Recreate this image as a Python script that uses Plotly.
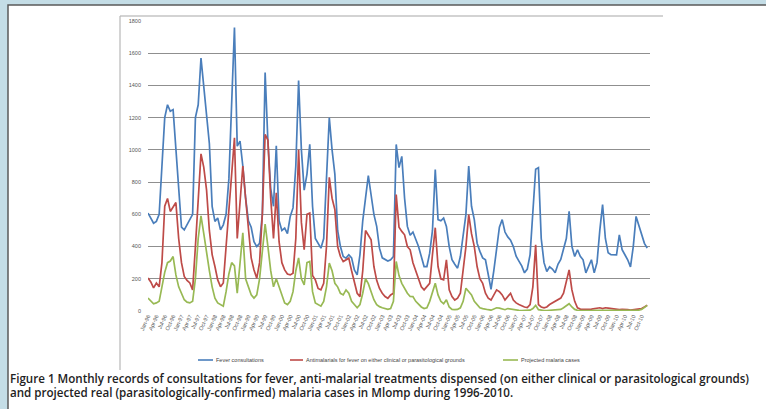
import plotly.graph_objects as go

# Monthly series, January 1996 to December 2010 (one value per month)
fever_consultations = [
    608, 580, 545, 556, 600, 900, 1200, 1280, 1240, 1250, 1000, 770,     # 1996
    520, 504, 535, 570, 600, 1200, 1280, 1570, 1400, 1250, 1040, 650,    # 1997
    556, 577, 504, 535, 600, 820, 1250, 1760, 1023, 1054, 900, 700,      # 1998
    560, 520, 430, 400, 420, 600, 1480, 1050, 760, 650, 1025, 560,       # 1999
    500, 514, 480, 587, 640, 900, 1430, 1000, 750, 850, 1035, 650,       # 2000
    450, 421, 390, 450, 800, 1200, 1000, 850, 500, 400, 338, 328,        # 2001
    349, 330, 255, 224, 350, 560, 700, 840, 720, 600, 525, 390,          # 2002
    330, 318, 310, 318, 338, 1034, 890, 960, 700, 525, 470, 490,         # 2003
    450, 400, 338, 276, 276, 359, 500, 878, 567, 560, 577, 525,          # 2004
    400, 318, 290, 266, 338, 480, 600, 900, 650, 567, 421, 370,          # 2005
    330, 318, 214, 135, 250, 400, 520, 567, 490, 460, 440, 400,          # 2006
    340, 310, 280, 237, 260, 350, 600, 880, 890, 450, 300, 245,          # 2007
    274, 260, 237, 290, 320, 380, 450, 618, 400, 338, 380, 340,          # 2008
    318, 237, 280, 318, 237, 300, 500, 660, 450, 361, 350, 349,          # 2009
    349, 473, 380, 349, 318, 274, 400, 587, 530, 480, 420, 390,          # 2010
]

antimalarials_dispensed = [
    205, 180, 143, 174, 150, 300, 650, 698, 618, 650, 673, 450,
    300, 214, 190, 174, 131, 400, 727, 975, 891, 750, 500, 350,
    276, 193, 151, 174, 400, 629, 900, 1075, 450, 700, 900, 700,
    525, 330, 255, 204, 300, 600, 1096, 1060, 700, 450, 733, 430,
    300, 255, 230, 224, 235, 450, 1000, 550, 380, 600, 608, 220,
    193, 140, 131, 172, 400, 830, 700, 629, 400, 338, 307, 320,
    328, 250, 172, 110, 89, 250, 500, 470, 442, 276, 190, 140,
    110, 90, 79, 100, 110, 723, 520, 494, 473, 400, 380, 300,
    250, 214, 150, 131, 150, 172, 350, 517, 276, 200, 193, 318,
    131, 90, 68, 79, 110, 250, 400, 598, 480, 400, 276, 200,
    172, 110, 80, 68, 100, 131, 120, 100, 68, 90, 110, 68,
    50, 40, 30, 25, 21, 40, 150, 411, 40, 25, 20, 25,
    40, 50, 60, 70, 80, 110, 193, 255, 131, 60, 20, 12,
    10, 8, 10, 12, 15, 18, 20, 15, 20, 18, 15, 12,
    10, 8, 10, 10, 8, 5, 8, 10, 12, 15, 25, 35,
]

projected_cases = [
    80, 60, 45, 50, 60, 150, 240, 300, 310, 338, 224, 150,
    110, 70, 55, 50, 60, 200, 450, 590, 480, 350, 250, 150,
    80, 50, 40, 30, 120, 230, 300, 280, 110, 300, 485, 200,
    150, 100, 80, 100, 200, 350, 540, 400, 250, 150, 200, 150,
    100, 50, 40, 60, 120, 250, 330, 200, 162, 300, 307, 120,
    50, 40, 30, 60, 150, 297, 250, 172, 150, 110, 100, 131,
    110, 60, 40, 20, 40, 110, 200, 170, 120, 70, 40, 27,
    20, 15, 10, 15, 60, 307, 220, 172, 140, 110, 90, 89,
    60, 40, 25, 15, 20, 60, 120, 172, 100, 60, 45, 70,
    25, 10, 8, 10, 20, 60, 141, 120, 100, 60, 40, 20,
    15, 10, 8, 5, 15, 20, 18, 12, 8, 15, 12, 6,
    5, 4, 3, 3, 3, 5, 15, 35, 8, 4, 3, 3,
    4, 5, 6, 8, 10, 20, 35, 45, 25, 10, 4, 3,
    3, 2, 3, 3, 4, 4, 5, 4, 5, 4, 3, 3,
    3, 2, 3, 3, 2, 2, 3, 4, 6, 10, 20, 35,
]

years = list(range(1996, 2011))
tick_months = ["Jan", "Apr", "Jul", "Oct"]
series_names = [
    "Fever consultations",
    "Antimalarials for fever on either clinical or parasitological grounds",
    "Projected malaria cases",
]
caption_lines = [
    "Figure 1 Monthly records of consultations for fever, anti-malarial treatments dispensed "
    "(on either clinical or parasitological grounds)",
    "and projected real (parasitologically-confirmed) malaria cases in Mlomp during 1996-2010.",
]

colors = ["#4a7ebb", "#be4b48", "#98b954"]

months = list(range(len(fever_consultations)))
tick_vals = list(range(0, len(months), 3))
tick_text = [f"{m}-{str(y)[2:]}" for y in years for m in tick_months]

# page geometry (pixels) of the plotting area
W, H = 766, 409
L, R, T, B = 148, 650, 21, 311


def px(x):
    return (x - L) / (R - L)


def py(y):
    return (B - y) / (B - T)


fig = go.Figure()
for name, vals, col in zip(series_names,
                           [fever_consultations, antimalarials_dispensed, projected_cases],
                           colors):
    fig.add_trace(go.Scatter(x=months, y=vals, mode="lines", name=name,
                             line=dict(color=col, width=1.7), showlegend=False))

shapes = [
    # white page panel with dark edge
    dict(type="rect", xref="paper", yref="paper", x0=px(8), x1=px(790), y0=py(430), y1=py(5),
         fillcolor="white", line=dict(color="#5a5a5a", width=1.5), layer="below"),
    # chart-area frame (top and left)
    dict(type="line", xref="paper", yref="paper", x0=px(120), x1=px(663), y0=py(16), y1=py(16),
         line=dict(color="#c4c4c4", width=1.5), layer="below"),
    dict(type="line", xref="paper", yref="paper", x0=px(120), x1=px(120), y0=py(16), y1=py(370),
         line=dict(color="#b8b8b8", width=1.2), layer="below"),
]

annotations = []
# legend keys
legend_keys = [(198, 213), (290, 303), (503, 518)]
for (x0, x1), name, col in zip(legend_keys, series_names, colors):
    shapes.append(dict(type="line", xref="paper", yref="paper", x0=px(x0), x1=px(x1),
                       y0=py(360), y1=py(360), line=dict(color=col, width=1.6)))
    annotations.append(dict(xref="paper", yref="paper", x=px(x1 + 1), y=py(360), text=name,
                            showarrow=False, xanchor="left", yanchor="middle",
                            font=dict(size=5.5, color="#444444", family="Liberation Sans")))

# caption
for i, line in enumerate(caption_lines):
    annotations.append(dict(xref="paper", yref="paper", x=px(8), y=py(378 + 15 * i), text=line,
                            showarrow=False, xanchor="left", yanchor="middle",
                            font=dict(size=11.6, color="#222222", family="Open Sans",
                                      weight=600)))

fig.update_layout(
    width=W, height=H,
    margin=dict(l=L, r=W - R, t=T, b=H - B, pad=0),
    paper_bgcolor="#c4dde6",
    plot_bgcolor="rgba(0,0,0,0)",
    shapes=shapes,
    annotations=annotations,
    xaxis=dict(range=[0, len(months)], tickvals=tick_vals, ticktext=tick_text, tickangle=-65,
               tickfont=dict(size=5.5, color="#555555", family="Liberation Sans"),
               showgrid=False, zeroline=False, showline=False, ticks=""),
    yaxis=dict(range=[0, 1800], dtick=200, showgrid=True, gridcolor="#8f8f8f", gridwidth=1.2,
               zeroline=False, showline=False, ticks="", ticklabelstandoff=6,
               tickfont=dict(size=5.5, color="#555555", family="Liberation Sans")),
)

fig.write_html("out.html")
